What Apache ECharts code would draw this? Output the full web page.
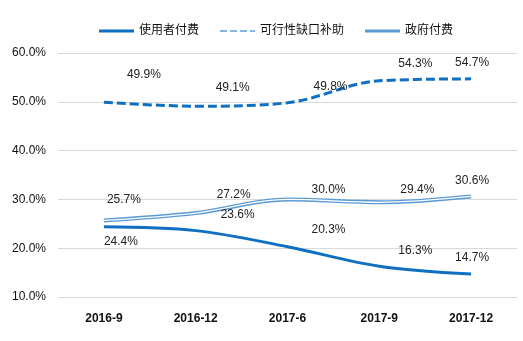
<!DOCTYPE html>
<html>
<head>
<meta charset="utf-8">
<script src="https://cdn.jsdelivr.net/npm/echarts@6/dist/echarts.min.js"></script>
<style>
  html, body { margin: 0; padding: 0; background: #fff; }
  #chart { width: 523px; height: 341px; }
</style>
</head>
<body>
<div id="chart"></div>
<script>
// Quarterly share of payment mechanisms (%)
const categories = ['2016-9', '2016-12', '2017-6', '2017-9', '2017-12'];
const userPay = [24.4, 23.6, 20.3, 16.3, 14.7];
const gapSubsidy = [49.9, 49.1, 49.8, 54.3, 54.7];
const govPay = [25.7, 27.2, 30.0, 29.4, 30.6];
const yTicks = [10, 20, 30, 40, 50, 60];

const seriesNames = ['使用者付费', '可行性缺口补助', '政府付费'];

// Per-point label nudges (px), keeping value labels clear of the lines
const userLabelShift = [[17, 15], [42, -16], [41, -17], [36, -16], [1, -16]];
const gapLabelShift = [[40, -28], [37, -19], [43, -16], [36, -17], [1, -16]];
const govLabelShift = [[20, -21], [38, -18], [41, -10], [38, -13], [1, -16]];

const FONT = '"Liberation Sans", "Noto Sans CJK SC", sans-serif';
const BLUE = '#0f6fc1';
const LIGHT = '#5b9bd5';

function withLabels(values, shifts) {
  return values.map((v, i) => ({
    value: v,
    label: {
      show: true,
      position: 'inside',
      offset: shifts[i],
      formatter: p => p.value.toFixed(1) + '%',
      color: '#222',
      fontSize: 12,
      fontFamily: FONT
    }
  }));
}

const chart = echarts.init(document.getElementById('chart'), null, { renderer: 'canvas' });

chart.setOption({
  animation: false,
  backgroundColor: '#fff',
  legend: {
    top: 20,
    left: 94,
    itemWidth: 35,
    itemHeight: 3,
    itemGap: 21,
    textStyle: { fontSize: 12, color: '#111', fontFamily: FONT },
    data: seriesNames.map((n, i) => ({
      name: n,
      icon: i === 1 ? 'path://M0,0 H7 V1 H0 Z M10,0 H17 V1 H10 Z M20,0 H27 V1 H20 Z M30,0 H35 V1 H30 Z' : 'rect'
    }))
  },
  grid: { left: 58, right: 6, top: 53, bottom: 44 },
  xAxis: {
    type: 'category',
    data: categories,
    boundaryGap: true,
    axisLine: { show: false },
    axisTick: { show: false },
    axisLabel: { color: '#111', fontSize: 12, fontWeight: 'bold', fontFamily: FONT, margin: 16 }
  },
  yAxis: {
    type: 'value',
    min: yTicks[0],
    max: yTicks[yTicks.length - 1],
    interval: 10,
    axisLine: { show: false },
    axisTick: { show: false },
    splitLine: { lineStyle: { color: '#d9d9d9', width: 1 } },
    axisLabel: {
      color: '#111', fontSize: 12, fontFamily: FONT, margin: 12,
      formatter: v => v.toFixed(1) + '%'
    }
  },
  series: [
    {
      name: seriesNames[0],
      type: 'line',
      smooth: 0.35,
      symbol: 'circle',
      symbolSize: 0.1,
      itemStyle: { color: BLUE },
      lineStyle: { color: BLUE, width: 3 },
      data: withLabels(userPay, userLabelShift),
      z: 3
    },
    {
      name: seriesNames[1],
      type: 'line',
      smooth: 0.35,
      symbol: 'circle',
      symbolSize: 0.1,
      itemStyle: { color: BLUE },
      lineStyle: { color: BLUE, width: 3, type: [9, 4] },
      data: withLabels(gapSubsidy, gapLabelShift),
      z: 3
    },
    {
      name: seriesNames[2],
      type: 'line',
      smooth: 0.35,
      symbol: 'circle',
      symbolSize: 0.1,
      itemStyle: { color: LIGHT },
      lineStyle: { color: LIGHT, width: 4 },
      data: withLabels(govPay, govLabelShift),
      z: 3
    },
    {
      // white core of the double-stroked government line
      name: seriesNames[2] + '-core',
      type: 'line',
      smooth: 0.35,
      symbol: 'none',
      silent: true,
      lineStyle: { color: '#fff', width: 1.2 },
      data: govPay,
      z: 4
    }
  ]
});
</script>
</body>
</html>
